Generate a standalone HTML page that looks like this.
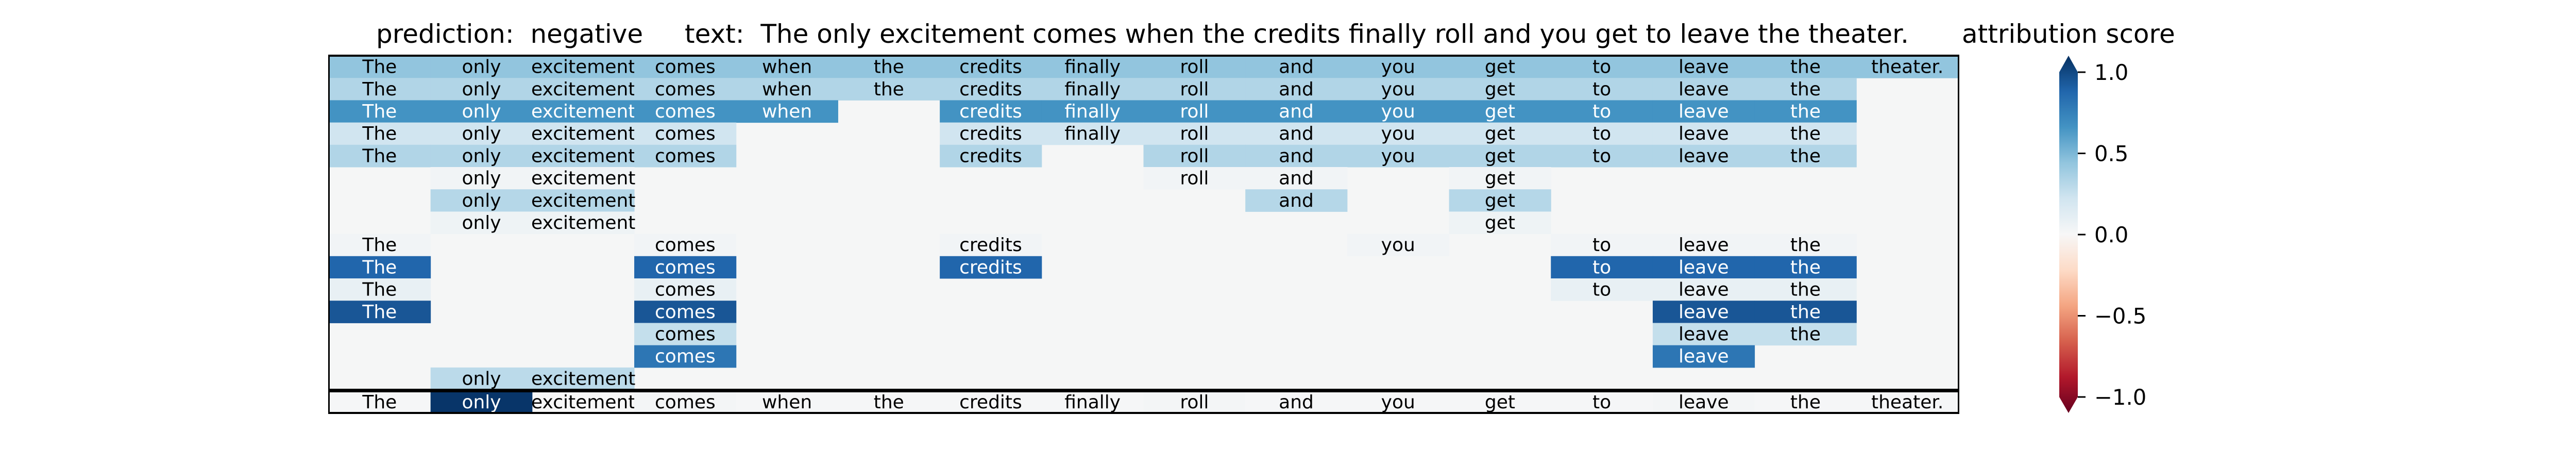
<!DOCTYPE html>
<html><head><meta charset="utf-8">
<style>
html,body{margin:0;padding:0;background:#fff;}
svg{display:block;font-family:"DejaVu Sans","Liberation Sans",sans-serif;}
svg text{white-space:pre;}
</style></head>
<body>
<svg id="chart" width="5100" height="900" viewBox="0 0 5100 900" xmlns="http://www.w3.org/2000/svg" xml:space="preserve">
<rect x="0" y="0" width="5100" height="900" fill="#fff"/>
<text x="730" y="83" font-size="50" fill="#000">prediction:  negative</text>
<text x="1329" y="83" font-size="50" fill="#000" textLength="2376" lengthAdjust="spacingAndGlyphs">text:  The only excitement comes when the credits finally roll and you get to leave the theater.</text>
<text x="3808" y="83" font-size="50" fill="#000">attribution score</text>
<rect x="638" y="108" width="3163" height="695" fill="#f5f6f6"/>
<g id="cells"></g>
<g id="frame"></g>
<defs>
<linearGradient id="rdbu" x1="0" y1="1" x2="0" y2="0">
<stop offset="0" stop-color="#67001f"/><stop offset="0.1" stop-color="#b2182b"/><stop offset="0.2" stop-color="#d6604d"/><stop offset="0.3" stop-color="#f4a582"/><stop offset="0.4" stop-color="#fddbc7"/><stop offset="0.5" stop-color="#f7f7f7"/><stop offset="0.6" stop-color="#d1e5f0"/><stop offset="0.7" stop-color="#92c5de"/><stop offset="0.8" stop-color="#4393c3"/><stop offset="0.9" stop-color="#2166ac"/><stop offset="1" stop-color="#053061"/>
</linearGradient>
</defs>
<g id="colorbar"></g>
</svg>
<script>
const tokens = ["The","only","excitement","comes","when","the","credits","finally","roll","and","you","get","to","leave","the","theater."];
const N = null;
const row1  = [0.40,0.40,0.40,0.40,0.40,0.40,0.40,0.40,0.40,0.40,0.40,0.40,0.40,0.40,0.40,0.40];
const row2  = [0.30,0.30,0.30,0.30,0.30,0.30,0.30,0.30,0.30,0.30,0.30,0.30,0.30,0.30,0.30,N];
const row3  = [0.60,0.60,0.60,0.60,0.60,N,0.60,0.60,0.60,0.60,0.60,0.60,0.60,0.60,0.60,N];
const row4  = [0.20,0.20,0.20,0.20,N,N,0.20,0.20,0.20,0.20,0.20,0.20,0.20,0.20,0.20,N];
const row5  = [0.30,0.30,0.30,0.30,N,N,0.30,N,0.30,0.30,0.30,0.30,0.30,0.30,0.30,N];
const row6  = [N,0.03,0.03,N,N,N,N,N,0.03,0.03,N,0.03,N,N,N,N];
const row7  = [N,0.29,0.29,N,N,N,N,N,N,0.29,N,0.29,N,N,N,N];
const row8  = [N,0.05,0.05,N,N,N,N,N,N,N,N,0.05,N,N,N,N];
const row9  = [0.03,N,N,0.03,N,N,0.03,N,N,N,0.03,N,0.03,0.03,0.03,N];
const row10 = [0.80,N,N,0.80,N,N,0.80,N,N,N,N,N,0.80,0.80,0.80,N];
const row11 = [0.08,N,N,0.08,N,N,N,N,N,N,N,N,0.08,0.08,0.08,N];
const row12 = [0.86,N,N,0.86,N,N,N,N,N,N,N,N,N,0.86,0.86,N];
const row13 = [N,N,N,0.24,N,N,N,N,N,N,N,N,N,0.24,0.24,N];
const row14 = [N,N,N,0.73,N,N,N,N,N,N,N,N,N,0.73,N,N];
const row15 = [N,0.27,0.27,N,N,N,N,N,N,N,N,N,N,N,N,N];
const bottomRow = [0.01,0.98,0.0,0.02,0.01,0.01,0.01,0.01,0.02,0.01,0.01,0.01,0.01,0.02,0.01,0.01];
const rows = [row1,row2,row3,row4,row5,row6,row7,row8,row9,row10,row11,row12,row13,row14,row15];
const cbTicks = [1.0,0.5,0.0,-0.5,-1.0];
const cbTickLabels = ["1.0","0.5","0.0","\u22120.5","\u22121.0"];

const NS = "http://www.w3.org/2000/svg";
const X0 = 638, X1 = 3801, Y0 = 108, RH = 43.2;
const CW = (X1 - X0) / tokens.length;
const xCol = i => X0 + i * CW;
const yRow = r => Y0 + r * RH;
const stops = [[0,"#67001f"],[0.1,"#b2182b"],[0.2,"#d6604d"],[0.3,"#f4a582"],[0.4,"#fddbc7"],[0.5,"#f7f7f7"],[0.6,"#d1e5f0"],[0.7,"#92c5de"],[0.8,"#4393c3"],[0.9,"#2166ac"],[1,"#053061"]];
function hex(h){return [1,3,5].map(i=>parseInt(h.substr(i,2),16));}
function cmap(v){
  let t = Math.max(0, Math.min(1, (v + 1) / 2));
  for (let i = 0; i < stops.length - 1; i++) {
    if (t <= stops[i+1][0]) {
      const f = (t - stops[i][0]) / (stops[i+1][0] - stops[i][0]);
      const a = hex(stops[i][1]), b = hex(stops[i+1][1]);
      return "rgb(" + a.map((c,k)=>Math.round(c + (b[k]-c)*f)).join(",") + ")";
    }
  }
  return stops[stops.length-1][1];
}
const cells = document.getElementById("cells");
function drawCell(v, c, y, h, name){
  const r = document.createElementNS(NS, "rect");
  r.setAttribute("x", xCol(c)); r.setAttribute("y", y);
  r.setAttribute("width", CW + 0.5); r.setAttribute("height", h + 0.5);
  r.setAttribute("fill", cmap(v));
  
  
  cells.appendChild(r);
  const t = document.createElementNS(NS, "text");
  t.setAttribute("x", xCol(c) + CW / 2); t.setAttribute("y", y + h / 2 + 12);
  t.setAttribute("text-anchor", "middle"); t.setAttribute("font-size", "36");
  t.setAttribute("fill", Math.abs(v) > 0.5 ? "#fff" : "#000");
  t.textContent = tokens[c];
  
  
  cells.appendChild(t);
}
rows.forEach((row, r) => {
  row.forEach((v, c) => { if (v !== null) drawCell(v, c, yRow(r), RH, "token-r" + (r+1) + "-c" + c); });
});
const BY0 = 761, BY1 = 799;
bottomRow.forEach((v, c) => drawCell(v, c, BY0, BY1 - BY0, "summary-c" + c));

const frame = document.getElementById("frame");
function fr(x,y,w,h,name){
  const r = document.createElementNS(NS,"rect");
  r.setAttribute("x",x);r.setAttribute("y",y);r.setAttribute("width",w);r.setAttribute("height",h);r.setAttribute("fill","#000");
  
  
  frame.appendChild(r);
}
fr(637,106,3166,4,"top-border");
fr(637,754,3166,7,"separator-line");
fr(637,799,3166,4,"bottom-border");
fr(637,106,3,697,"left-border");
fr(3800,106,3,697,"right-border");

const cb = document.getElementById("colorbar");
const CBX0 = 3997, CBX1 = 4033, CBT = 140, CBB = 770;
const yCb = v => CBT + (1 - v) / 2 * (CBB - CBT);
const body = document.createElementNS(NS,"path");
const mid = (CBX0 + CBX1) / 2;
body.setAttribute("d", `M${CBX0},${CBT} L${mid},${CBT-32} L${CBX1},${CBT} L${CBX1},${CBB} L${mid},${CBB+31} L${CBX0},${CBB} Z`);
body.setAttribute("fill","url(#rdbu)");


cb.appendChild(body);
cbTicks.forEach((v,i)=>{
  const l = document.createElementNS(NS,"rect");
  l.setAttribute("x",CBX1);l.setAttribute("y",yCb(v)-1.5);l.setAttribute("width",15);l.setAttribute("height",3);l.setAttribute("fill","#000");
  
  
  cb.appendChild(l);
  const t = document.createElementNS(NS,"text");
  t.setAttribute("x",4065);t.setAttribute("y",yCb(v)+15);t.setAttribute("font-size","41.7");
  t.textContent = cbTickLabels[i];
  
  
  cb.appendChild(t);
});
</script>
</body></html>
